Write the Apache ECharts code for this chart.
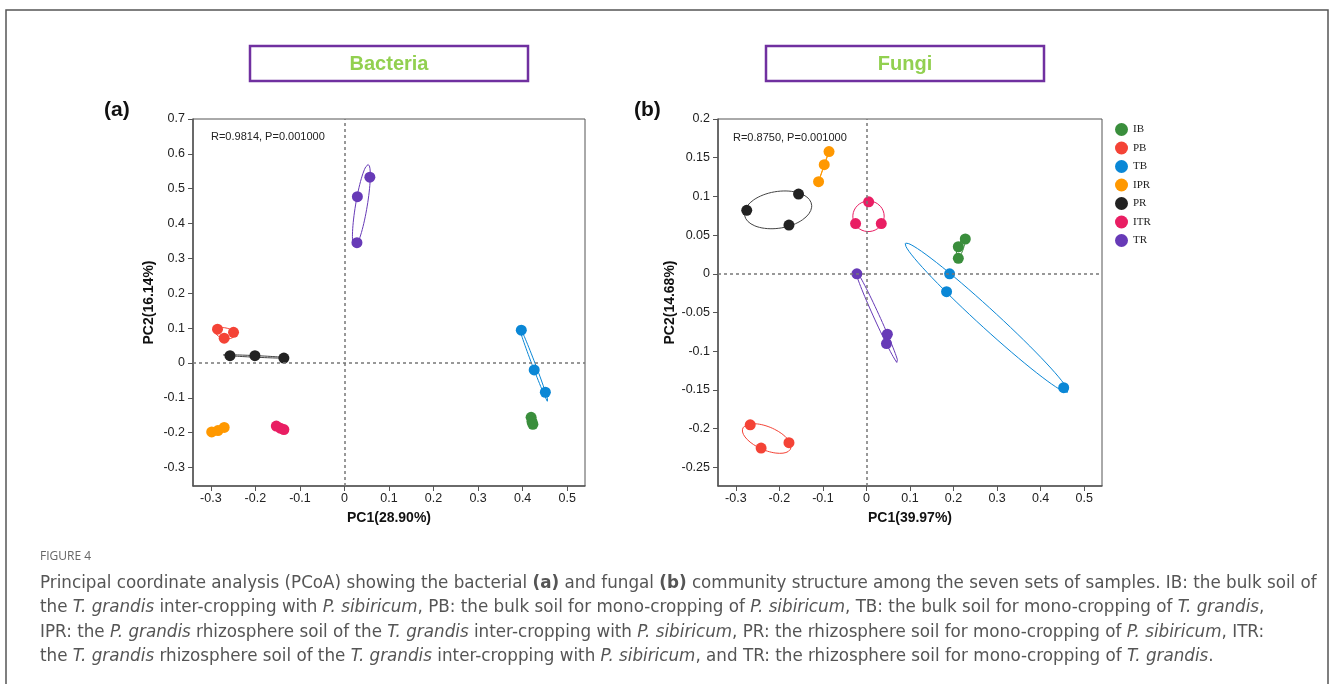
<!DOCTYPE html>
<html>
<head>
<meta charset="utf-8">
<script src="https://cdn.jsdelivr.net/npm/echarts@6/dist/echarts.min.js"></script>
<style>
html, body { margin: 0; padding: 0; background: #fff; }
#main { width: 1330px; height: 684px; }
</style>
</head>
<body>
<div id="main"></div>
<script>
// sample groups and their colours
var groups = ['IB', 'PB', 'TB', 'IPR', 'PR', 'ITR', 'TR'];
var colors = ['#3a8e3c', '#f44336', '#0a87d6', '#ff9800', '#222222', '#e91e63', '#673ab7'];

// bacteria PCoA scores [PC1, PC2]
var bacIB  = [[0.419, -0.156], [0.421, -0.168], [0.423, -0.176]];
var bacPB  = [[-0.285, 0.097], [-0.270, 0.071], [-0.249, 0.088]];
var bacTB  = [[0.397, 0.094], [0.426, -0.020], [0.451, -0.084]];
var bacIPR = [[-0.298, -0.198], [-0.284, -0.194], [-0.270, -0.185]];
var bacPR  = [[-0.257, 0.021], [-0.201, 0.021], [-0.136, 0.014]];
var bacITR = [[-0.153, -0.181], [-0.144, -0.187], [-0.136, -0.191]];
var bacTR  = [[0.057, 0.533], [0.029, 0.477], [0.028, 0.345]];

// fungi PCoA scores [PC1, PC2]
var funIB  = [[0.227, 0.045], [0.211, 0.035], [0.211, 0.020]];
var funPB  = [[-0.267, -0.195], [-0.242, -0.225], [-0.178, -0.218]];
var funTB  = [[0.191, 0.000], [0.184, -0.023], [0.453, -0.147]];
var funIPR = [[-0.086, 0.158], [-0.097, 0.141], [-0.110, 0.119]];
var funPR  = [[-0.275, 0.082], [-0.156, 0.103], [-0.178, 0.063]];
var funITR = [[0.005, 0.093], [-0.025, 0.065], [0.034, 0.065]];
var funTR  = [[-0.022, 0.000], [0.048, -0.078], [0.046, -0.090]];

var bacData = [bacIB, bacPB, bacTB, bacIPR, bacPR, bacITR, bacTR];
var funData = [funIB, funPB, funTB, funIPR, funPR, funITR, funTR];

// tick labels
var bacXTicks = [-0.3, -0.2, -0.1, 0, 0.1, 0.2, 0.3, 0.4, 0.5];
var bacYTicks = [-0.3, -0.2, -0.1, 0, 0.1, 0.2, 0.3, 0.4, 0.5, 0.6, 0.7];
var funXTicks = [-0.3, -0.2, -0.1, 0, 0.1, 0.2, 0.3, 0.4, 0.5];
var funYTicks = [-0.25, -0.2, -0.15, -0.1, -0.05, 0, 0.05, 0.1, 0.15, 0.2];

// confidence ellipse around a group's points (from mean and covariance)
function ellipse(pts, k) {
    var n = pts.length, mx = 0, my = 0;
    pts.forEach(function (p) { mx += p[0]; my += p[1]; });
    mx /= n; my /= n;
    var sxx = 0, syy = 0, sxy = 0;
    pts.forEach(function (p) {
        sxx += (p[0] - mx) * (p[0] - mx);
        syy += (p[1] - my) * (p[1] - my);
        sxy += (p[0] - mx) * (p[1] - my);
    });
    sxx /= (n - 1); syy /= (n - 1); sxy /= (n - 1);
    var tr = sxx + syy, det = sxx * syy - sxy * sxy;
    var disc = Math.sqrt(Math.max(tr * tr / 4 - det, 0));
    var l1 = tr / 2 + disc, l2 = Math.max(tr / 2 - disc, 0);
    var ang = Math.abs(sxy) < 1e-12 ? (sxx >= syy ? 0 : Math.PI / 2) : Math.atan2(l1 - sxx, sxy);
    var a = k * Math.sqrt(l1), b = k * Math.sqrt(l2);
    var out = [];
    for (var i = 0; i <= 72; i++) {
        var t = i / 72 * Math.PI * 2;
        var ex = a * Math.cos(t), ey = b * Math.sin(t);
        out.push([mx + ex * Math.cos(ang) - ey * Math.sin(ang),
                  my + ex * Math.sin(ang) + ey * Math.cos(ang)]);
    }
    return out;
}

var series = [];
function addPanel(data, gi) {
    groups.forEach(function (g, i) {
        series.push({
            name: g,
            type: 'line',
            xAxisIndex: gi,
            yAxisIndex: gi,
            data: ellipse(data[i], 1.22),
            showSymbol: false,
            symbol: 'none',
            silent: true,
            z: 2,
            lineStyle: { color: g === 'PR' ? '#444' : colors[i], width: 1 },
            itemStyle: { color: colors[i] }
        });
    });
    groups.forEach(function (g, i) {
        var s = {
            name: g,
            type: 'scatter',
            xAxisIndex: gi,
            yAxisIndex: gi,
            data: data[i],
            symbolSize: 11,
            z: 3,
            itemStyle: { color: colors[i], opacity: 1 }
        };
        if (i === 0) {
            s.markLine = {
                silent: true,
                symbol: 'none',
                label: { show: false },
                lineStyle: { color: '#777', type: [3, 3], width: 1.5 },
                data: [{ xAxis: 0 }, { yAxis: 0 }]
            };
        }
        series.push(s);
    });
}
addPanel(bacData, 0);
addPanel(funData, 1);

function xAxisOf(gi, min, max, ticks, name) {
    return {
        type: 'value', gridIndex: gi, min: min, max: max,
        name: name, nameLocation: 'middle', nameGap: 25,
        nameTextStyle: { fontFamily: 'Liberation Sans', fontWeight: 'bold', fontSize: 14, color: '#111' },
        splitLine: { show: false },
        axisLine: { onZero: false, lineStyle: { color: '#555', width: 1.5 } },
        axisTick: { length: 5, customValues: ticks, lineStyle: { color: '#555' } },
        axisLabel: { customValues: ticks, margin: 6, fontFamily: 'Liberation Sans', fontSize: 12.5, color: '#222',
            formatter: function (v) { return String(v); } }
    };
}
function yAxisOf(gi, min, max, ticks, name, gap) {
    return {
        type: 'value', gridIndex: gi, min: min, max: max,
        name: name, nameLocation: 'middle', nameGap: gap, nameRotate: 90,
        nameTextStyle: { fontFamily: 'Liberation Sans', fontWeight: 'bold', fontSize: 14, color: '#111' },
        splitLine: { show: false },
        axisLine: { onZero: false, lineStyle: { color: '#555', width: 1.5 } },
        axisTick: { length: 5, customValues: ticks, lineStyle: { color: '#555' } },
        axisLabel: { customValues: ticks, margin: 8, fontFamily: 'Liberation Sans', fontSize: 12.5, color: '#222',
            formatter: function (v) { return String(v); } }
    };
}

var capFont = 'DejaVu Sans';
var rich = {
    n: { fontFamily: capFont, fontSize: 16.75, color: '#555', lineHeight: 24.6 },
    i: { fontFamily: capFont, fontSize: 16.75, color: '#555', fontStyle: 'italic', lineHeight: 24.6 },
    b: { fontFamily: capFont, fontSize: 16.75, color: '#333', fontWeight: 'bold', lineHeight: 24.6 }
};
var caption =
    '{n|Principal coordinate analysis (PCoA) showing the bacterial }{b|(a)}{n| and fungal }{b|(b)}{n| community structure among the seven sets of samples. IB: the bulk soil of}\n' +
    '{n|the }{i|T. grandis}{n| inter-cropping with }{i|P. sibiricum}{n|, PB: the bulk soil for mono-cropping of }{i|P. sibiricum}{n|, TB: the bulk soil for mono-cropping of }{i|T. grandis}{n|,}\n' +
    '{n|IPR: the }{i|P. grandis}{n| rhizosphere soil of the }{i|T. grandis}{n| inter-cropping with }{i|P. sibiricum}{n|, PR: the rhizosphere soil for mono-cropping of }{i|P. sibiricum}{n|, ITR:}\n' +
    '{n|the }{i|T. grandis}{n| rhizosphere soil of the }{i|T. grandis}{n| inter-cropping with }{i|P. sibiricum}{n|, and TR: the rhizosphere soil for mono-cropping of }{i|T. grandis}{n|.}';

var myChart = echarts.init(document.getElementById('main'));
var option = {
    animation: false,
    backgroundColor: '#fff',
    grid: [
        { left: 193, top: 119, width: 392, height: 367, show: true, borderColor: '#555', borderWidth: 1, backgroundColor: 'transparent' },
        { left: 718, top: 119, width: 384, height: 367, show: true, borderColor: '#555', borderWidth: 1, backgroundColor: 'transparent' }
    ],
    xAxis: [
        xAxisOf(0, -0.34, 0.54, bacXTicks, 'PC1(28.90%)'),
        xAxisOf(1, -0.341, 0.541, funXTicks, 'PC1(39.97%)')
    ],
    yAxis: [
        yAxisOf(0, -0.353, 0.7, bacYTicks, 'PC2(16.14%)', 37),
        yAxisOf(1, -0.274, 0.2, funYTicks, 'PC2(14.68%)', 38)
    ],
    legend: {
        data: groups,
        orient: 'vertical',
        left: 1110,
        top: 118,
        itemWidth: 13,
        itemHeight: 13,
        itemGap: 5.5,
        icon: 'circle',
        textStyle: { fontFamily: 'Liberation Serif', fontSize: 11, color: '#222' }
    },
    graphic: [
        { type: 'rect', shape: { x: 6, y: 10, width: 1322, height: 720 }, style: { fill: 'none', stroke: '#555', lineWidth: 1.5 }, silent: true },
        { type: 'rect', shape: { x: 250, y: 46, width: 278, height: 35 }, style: { fill: 'none', stroke: '#7030a0', lineWidth: 2.5 } },
        { type: 'rect', shape: { x: 766, y: 46, width: 278, height: 35 }, style: { fill: 'none', stroke: '#7030a0', lineWidth: 2.5 } },
        { type: 'text', x: 389, y: 64, style: { text: 'Bacteria', fontFamily: 'Liberation Sans', fontWeight: 'bold', fontSize: 20, fill: '#92d050', align: 'center', verticalAlign: 'middle' } },
        { type: 'text', x: 905, y: 64, style: { text: 'Fungi', fontFamily: 'Liberation Sans', fontWeight: 'bold', fontSize: 20, fill: '#92d050', align: 'center', verticalAlign: 'middle' } },
        { type: 'text', x: 104, y: 110, style: { text: '(a)', fontFamily: 'Liberation Sans', fontWeight: 'bold', fontSize: 21, fill: '#111', verticalAlign: 'middle' } },
        { type: 'text', x: 634, y: 110, style: { text: '(b)', fontFamily: 'Liberation Sans', fontWeight: 'bold', fontSize: 21, fill: '#111', verticalAlign: 'middle' } },
        { type: 'text', x: 211, y: 137, style: { text: 'R=0.9814, P=0.001000', fontFamily: 'Liberation Sans', fontSize: 11, fill: '#222', verticalAlign: 'middle' } },
        { type: 'text', x: 733, y: 138, style: { text: 'R=0.8750, P=0.001000', fontFamily: 'Liberation Sans', fontSize: 11, fill: '#222', verticalAlign: 'middle' } },
        { type: 'text', x: 40, y: 557, style: { text: 'FIGURE 4', fontFamily: 'Open Sans', fontSize: 12, fill: '#666', verticalAlign: 'middle' } },
        { type: 'text', x: 40, y: 571, style: { text: caption, rich: rich, fontFamily: capFont, fontSize: 16.75, fill: '#555' } }
    ],
    series: series
};
myChart.setOption(option);
</script>
</body>
</html>
